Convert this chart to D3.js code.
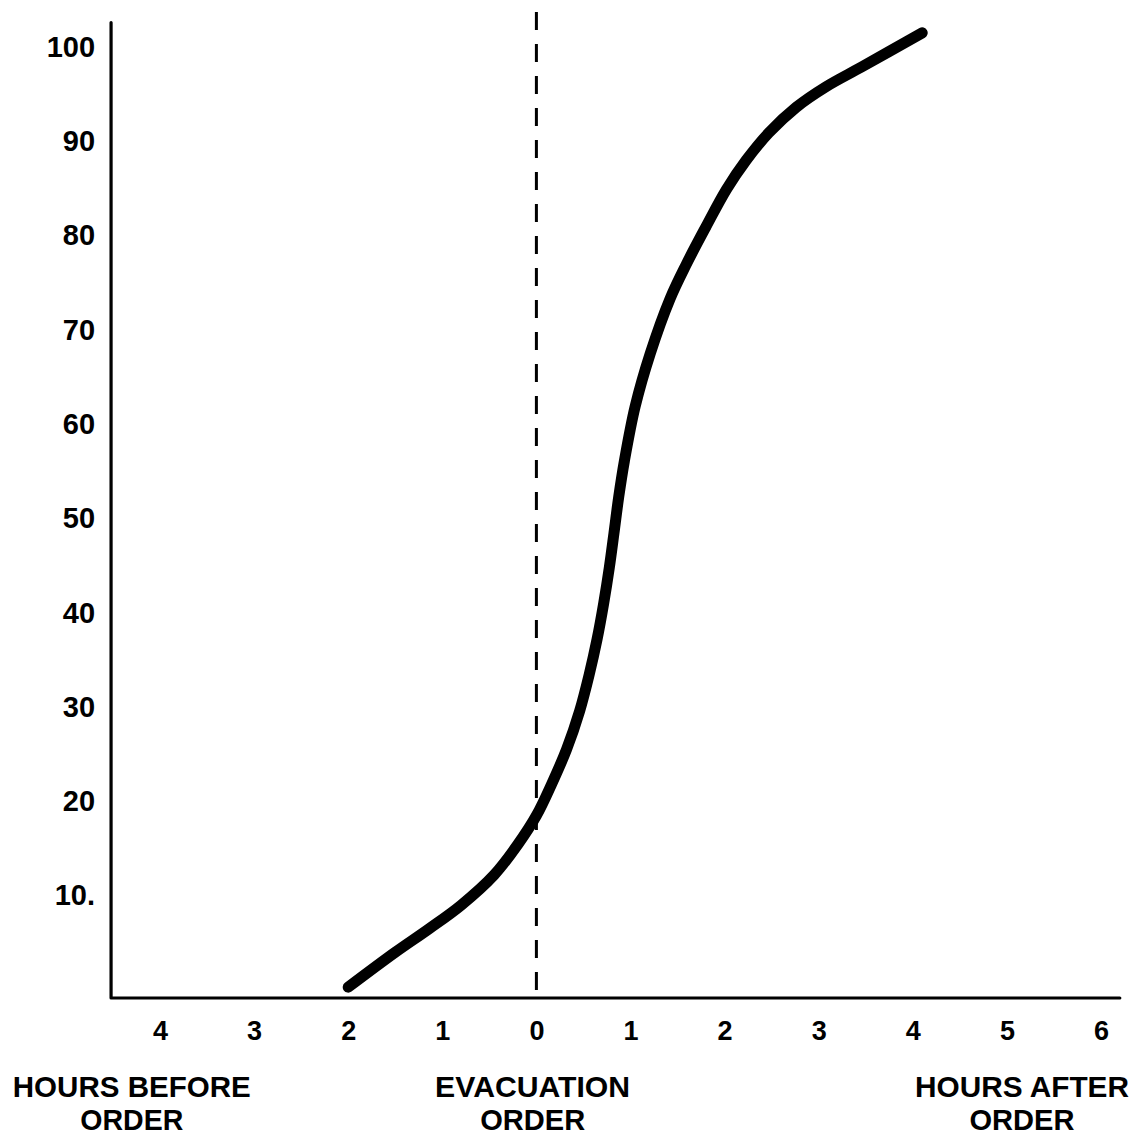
<!DOCTYPE html>
<html>
<head>
<meta charset="utf-8">
<script src="https://cdn.jsdelivr.net/npm/d3@7"></script>
<style>
  html, body { margin: 0; padding: 0; background: #fff; }
  svg { display: block; }
  text { font-family: "Liberation Sans", Arial, Helvetica, sans-serif; fill: #000; }
</style>
</head>
<body>
<svg id="chart" width="1141" height="1137"></svg>
<script>
// Hours relative to the evacuation order (negative = before) and cumulative percent evacuated
const hours   = [-2.0, -1.5, -1.14, -0.8, -0.45, -0.2, 0.0, 0.16, 0.32, 0.46, 0.56, 0.645, 0.715, 0.775, 0.825, 0.875, 0.935, 1.05, 1.21, 1.42, 1.59, 1.80, 2.02, 2.23, 2.47, 2.76, 3.08, 3.46, 4.10];
const percent = [0.3, 4.0, 6.5, 9.0, 12.2, 15.4, 18.5, 21.8, 25.5, 29.6, 33.4, 37.2, 41.0, 44.8, 48.5, 52.3, 56.1, 61.9, 67.5, 73.3, 76.9, 80.9, 84.9, 88.0, 90.9, 93.6, 95.8, 97.9, 101.5];

// Axis ticks and labels
const xTickValues = [-4, -3, -2, -1, 0, 1, 2, 3, 4, 5, 6];
const xTickLabels = ["4", "3", "2", "1", "0", "1", "2", "3", "4", "5", "6"];
const yTickValues = [10, 20, 30, 40, 50, 60, 70, 80, 90, 100];
const yTickLabels = ["10.", "20", "30", "40", "50", "60", "70", "80", "90", "100"];

// Extents of the drawn axis lines and the order marker, in data units
const xAxisExtent = [-4.52, 6.2];
const yAxisExtent = [-0.85, 102.6];
const orderLineTop = 103.7;
const orderHour = 0;

// Captions below the time axis: two lines, centre hour, line widths
const captions = [
  { lines: ["HOURS BEFORE", "ORDER"], at: -4.3, widths: [238, 103] },
  { lines: ["EVACUATION", "ORDER"], at: -0.04, widths: [195, 105] },
  { lines: ["HOURS AFTER", "ORDER"], at: 5.16, widths: [214, 105] }
];

const svg = d3.select("#chart");

const x = d3.scaleLinear().domain([-4, 6]).range([160, 1101]);
const y = d3.scaleLinear().domain([0, 100]).range([990, 47]);

const axisY = y(yAxisExtent[0]);
const axisX = x(xAxisExtent[0]);

// Axis frame (left and bottom lines)
svg.append("path")
  .attr("d", d3.line()([[axisX, y(yAxisExtent[1])], [axisX, axisY], [x(xAxisExtent[1]), axisY]]))
  .attr("fill", "none")
  .attr("stroke", "#000")
  .attr("stroke-width", 3.2)
  .attr("stroke-linejoin", "round")
  .attr("stroke-linecap", "round");

// Y tick labels
const gy = svg.append("g")
  .attr("transform", `translate(${axisX},0)`)
  .call(d3.axisLeft(y)
    .tickValues(yTickValues)
    .tickSize(0)
    .tickPadding(16)
    .tickFormat((d, i) => yTickLabels[i]));
gy.select(".domain").remove();
gy.selectAll("text")
  .attr("font-size", 29)
  .attr("font-weight", "bold")
  .style("font-family", "'Liberation Sans', Arial, sans-serif");

// X tick labels
const gx = svg.append("g")
  .attr("transform", `translate(0,${axisY})`)
  .call(d3.axisBottom(x)
    .tickValues(xTickValues)
    .tickSize(0)
    .tickPadding(23)
    .tickFormat((d, i) => xTickLabels[i]));
gx.select(".domain").remove();
gx.selectAll("text")
  .attr("font-size", 27)
  .attr("font-weight", "bold")
  .style("font-family", "'Liberation Sans', Arial, sans-serif");

// Dashed marker at the evacuation order
svg.append("line")
  .attr("x1", x(orderHour)).attr("x2", x(orderHour))
  .attr("y1", y(orderLineTop)).attr("y2", axisY)
  .attr("stroke", "#000")
  .attr("stroke-width", 3)
  .attr("stroke-dasharray", "18,14");

// Cumulative evacuation curve
const pts = hours.map((h, i) => [h, percent[i]]);
svg.append("path")
  .datum(pts)
  .attr("d", d3.line().x(d => x(d[0])).y(d => y(d[1])).curve(d3.curveCatmullRom.alpha(0.5)))
  .attr("fill", "none")
  .attr("stroke", "#000")
  .attr("stroke-width", 11)
  .attr("stroke-linecap", "round")
  .attr("stroke-linejoin", "round");

// Captions
const baselines = [1097, 1130];
captions.forEach(c => {
  c.lines.forEach((line, j) => {
    svg.append("text")
      .attr("x", x(c.at))
      .attr("y", baselines[j])
      .attr("text-anchor", "middle")
      .attr("font-size", 30)
      .attr("font-weight", "bold")
      .attr("textLength", c.widths[j])
      .attr("lengthAdjust", "spacingAndGlyphs")
      .text(line);
  });
});
</script>
</body>
</html>
